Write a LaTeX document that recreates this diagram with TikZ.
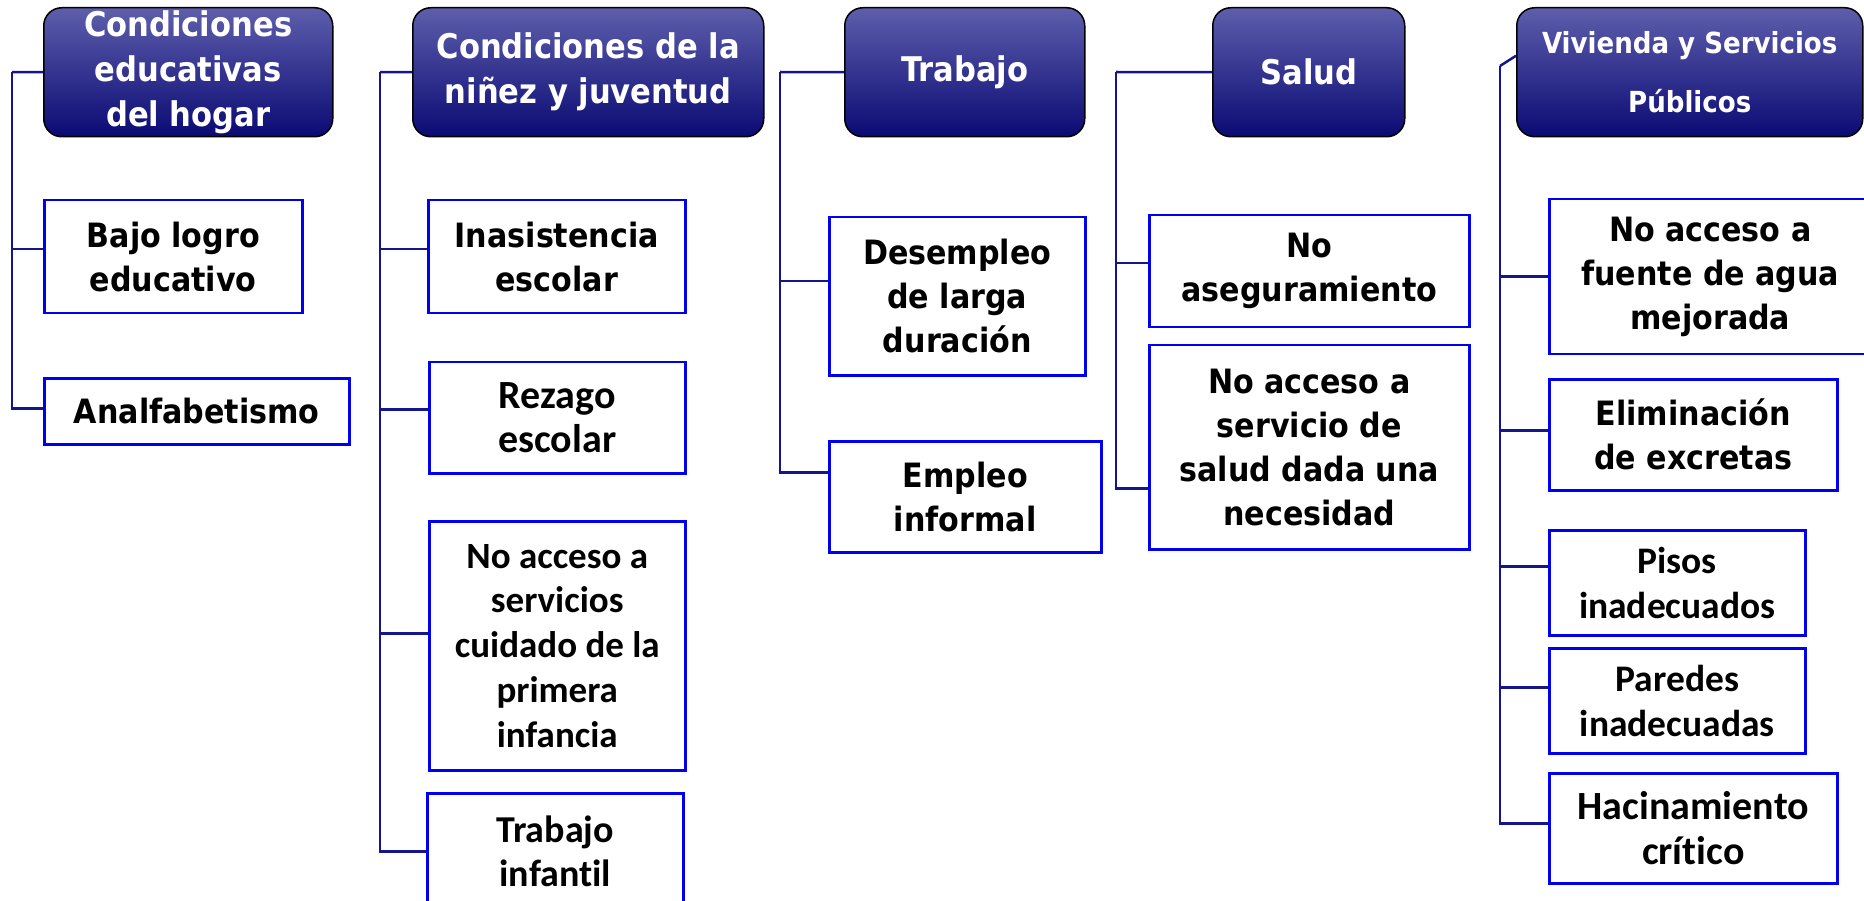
\documentclass[tikz,border=0pt]{standalone}
\usepackage{fontspec}
\newfontfamily\tahfont{DejaVu Sans Condensed}
\newfontfamily\calfont{Carlito}[Ligatures=NoCommon]
\definecolor{navyline}{RGB}{22,22,140}
\definecolor{boxblue}{RGB}{0,0,240}
\definecolor{headtop}{RGB}{94,94,172}
\definecolor{headbot}{RGB}{10,10,116}
\begin{document}
\begin{tikzpicture}[x=1pt,y=-1pt,
  head/.style={draw=black,line width=1.5pt,rounded corners=18pt,top color=headtop,bottom color=headbot,
    text=white,anchor=north west,align=center,inner sep=0pt,font=\tahfont\bfseries\fontsize{34}{45}\selectfont},
  leaf/.style={draw=boxblue,line width=2.5pt,fill=white,anchor=north west,align=center,inner sep=0pt,
    font=\tahfont\bfseries\fontsize{33.5}{44}\selectfont},
  cal/.style={font=\calfont\bfseries\fontsize{#1}{44.7}\selectfont},
  trunk/.style={draw=navyline,line width=2.5pt}]
 \useasboundingbox (0,0) rectangle (1864,901);
 \clip (0,0) rectangle (1864,901);
 % headers
 \node[head,minimum width=289,minimum height=129] (h1) at (43,7) {Condiciones\\educativas\\del hogar};
 \node[head,minimum width=351,minimum height=129] (h2) at (412,7) {Condiciones de la\\niñez y juventud};
 \node[head,minimum width=240,minimum height=129] (h3) at (844,7) {Trabajo};
 \node[head,minimum width=192,minimum height=129] (h4) at (1212,7) {Salud};
 \node[head,minimum width=346,minimum height=129,font=\tahfont\bfseries\fontsize{29}{59}\selectfont] (h5) at (1516,7) {Vivienda y Servicios\\Públicos};
 % leaves
 \node[leaf,minimum width=258,minimum height=113] (bajo) at (43,199) {Bajo logro\\educativo};
 \node[leaf,minimum width=305,minimum height=66] (analf) at (43,377) {Analfabetismo};
 \node[leaf,minimum width=257,minimum height=113] (inas) at (427,199) {Inasistencia\\escolar};
 \node[leaf,cal=40,minimum width=256,minimum height=111] (rezago) at (428,361) {Rezago\\escolar};
 \node[leaf,cal=37,minimum width=256,minimum height=249] (cuidado) at (428,520) {No acceso a\\servicios\\cuidado de la\\primera\\infancia};
 \node[leaf,cal=38,minimum width=256,minimum height=116] (tinf) at (426,792) {Trabajo\\infantil};
 \node[leaf,minimum width=256,minimum height=158] (desem) at (828,216) {Desempleo\\de larga\\duración};
 \node[leaf,minimum width=272,minimum height=111] (empinf) at (828,440) {Empleo\\informal};
 \node[leaf,minimum width=320,minimum height=112] (noaseg) at (1148,214) {No\\aseguramiento};
 \node[leaf,minimum width=320,minimum height=204] (nosalud) at (1148,344) {No acceso a\\servicio de\\salud dada una\\necesidad};
 \node[leaf,minimum width=322,minimum height=155] (fuente) at (1548,198) {No acceso a\\fuente de agua\\mejorada};
 \node[leaf,minimum width=288,minimum height=111] (elim) at (1548,378) {Eliminación\\de excretas};
 \node[leaf,cal=37.5,minimum width=256,minimum height=105] (pisos) at (1548,529) {Pisos\\inadecuados};
 \node[leaf,cal=37.5,minimum width=256,minimum height=105] (paredes) at (1548,647) {Paredes\\inadecuadas};
 \node[leaf,cal=40,minimum width=288,minimum height=110] (hacin) at (1548,772) {Hacinamiento\\crítico};
 % connectors
 \coordinate (t1) at (12,72);
 \coordinate (t2) at (380,72);
 \coordinate (t3) at (780,72);
 \coordinate (t4) at (1116,72);
 \coordinate (t5) at (1500,66);
 \draw[trunk] (h1.west) -- (t1);
 \draw[trunk] (h2.west) -- (t2);
 \draw[trunk] (h3.west) -- (t3);
 \draw[trunk] (h4.west) -- (t4);
 \draw[trunk] ([yshift=16.5pt]h5.west) -- (t5);
 \foreach \n/\s in {bajo/7.5,analf/3} \draw[trunk] (t1) |- ([yshift=\s pt]\n.west);
 \foreach \n/\s in {inas/7.5,rezago/8.5,cuidado/12.5,tinf/0} \draw[trunk] (t2) |- ([yshift=\s pt]\n.west);
 \foreach \n/\s in {desem/15,empinf/24.5} \draw[trunk] (t3) |- ([yshift=\s pt]\n.west);
 \foreach \n/\s in {noaseg/8,nosalud/-41} \draw[trunk] (t4) |- ([yshift=\s pt]\n.west);
 \foreach \n/\s in {fuente/0,elim/4.5,pisos/16.5,paredes/13.5,hacin/5} \draw[trunk] (t5) |- ([yshift=\s pt]\n.west);
\end{tikzpicture}
\end{document}
